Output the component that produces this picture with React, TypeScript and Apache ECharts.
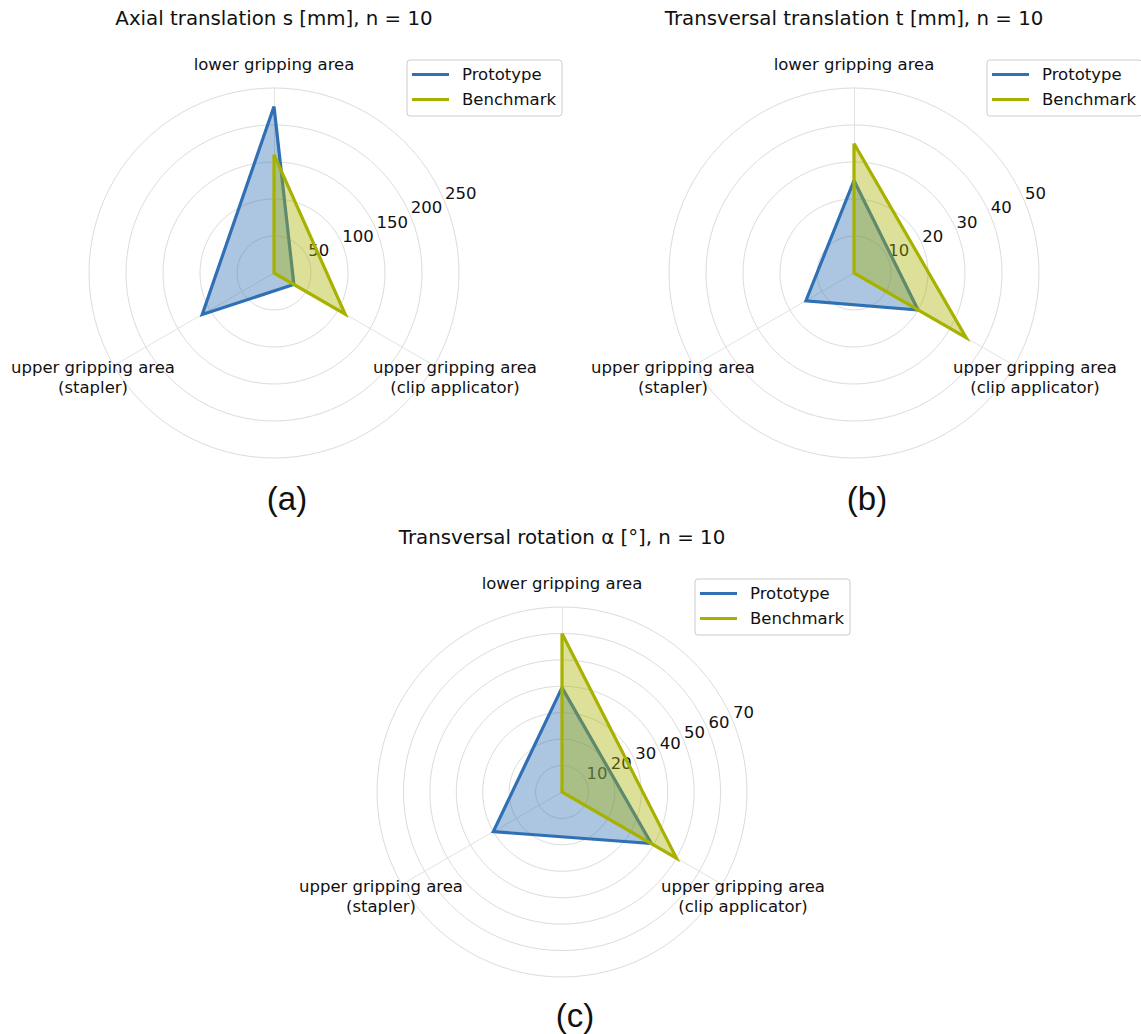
import React, { useEffect, useRef } from "react";
import * as echarts from "echarts";

// ---------- data ----------
// radar indicator order (counter-clockwise from top): lower, stapler, clip applicator
const CATEGORIES = [
  "lower gripping area",
  "upper gripping area\n(stapler)",
  "upper gripping area\n(clip applicator)",
];
const SERIES_NAMES = ["Prototype", "Benchmark"];

const AXIAL_TITLE = "Axial translation s [mm], n = 10";
const AXIAL_PROTOTYPE = [225, 112, 31];
const AXIAL_BENCHMARK = [160, 0, 111];
const AXIAL_TICKS = [50, 100, 150, 200, 250];

const TRANS_TITLE = "Transversal translation t [mm], n = 10";
const TRANS_PROTOTYPE = [25, 15, 20];
const TRANS_BENCHMARK = [35, 0, 35];
const TRANS_TICKS = [10, 20, 30, 40, 50];

const ROT_TITLE = "Transversal rotation α [°], n = 10";
const ROT_PROTOTYPE = [39.5, 30, 39];
const ROT_BENCHMARK = [60, 0, 50];
const ROT_TICKS = [10, 20, 30, 40, 50, 60, 70];

const PANEL_LETTERS = ["(a)", "(b)", "(c)"];

// ---------- layout / style ----------
const W = 1141;
const H = 1034;
const RADIUS = 185;
const CENTERS: [number, number][] = [
  [274, 273],
  [854, 273],
  [562, 792],
];
const BLUE = "#3070b5";
const GREEN = "#a7b200";
const TEXT = "#111111";
const FONT = "DejaVu Sans";
const FS = 16.5;
const TICK_ANGLE = 67.5; // clockwise from top  (= 22.5° above east)
const CATEGORY_ANGLES = [0, 240, 120]; // clockwise from top, matching radar order
const LABEL_GAP = 24; // px beyond outer ring to label centre

const PANELS = [
  { title: AXIAL_TITLE, proto: AXIAL_PROTOTYPE, bench: AXIAL_BENCHMARK, ticks: AXIAL_TICKS },
  { title: TRANS_TITLE, proto: TRANS_PROTOTYPE, bench: TRANS_BENCHMARK, ticks: TRANS_TICKS },
  { title: ROT_TITLE, proto: ROT_PROTOTYPE, bench: ROT_BENCHMARK, ticks: ROT_TICKS },
];

function buildOption() {
  const radar: any[] = [];
  const polar: any[] = [];
  const angleAxis: any[] = [];
  const radiusAxis: any[] = [];
  const legend: any[] = [];
  const series: any[] = [];
  const graphic: any[] = [];

  const labelBase = {
    show: true,
    position: "inside",
    fontSize: FS,
    fontFamily: FONT,
    color: TEXT,
    opacity: 1,
    textBorderWidth: 0,
  };

  PANELS.forEach((p, i) => {
    const max = p.ticks[p.ticks.length - 1];
    const [cx, cy] = CENTERS[i];
    radar.push({
      center: [cx, cy],
      radius: RADIUS,
      startAngle: 90,
      shape: "circle",
      splitNumber: p.ticks.length,
      indicator: CATEGORIES.map((c) => ({ name: c, min: 0, max })),
      axisName: { show: false },
      axisLabel: { show: false },
      axisTick: { show: false },
      splitArea: { show: false },
      splitLine: { lineStyle: { color: "#dcdcdc", width: 1 } },
      axisLine: { lineStyle: { color: "#e2e2e2", width: 1 } },
    });
    polar.push({ center: [cx, cy], radius: RADIUS });
    angleAxis.push({
      polarIndex: i,
      type: "value",
      min: 0,
      max: 360,
      startAngle: 90,
      clockwise: true,
      show: false,
    });
    radiusAxis.push({ polarIndex: i, type: "value", min: 0, max, show: false });

    legend.push({
      left: cx + 133,
      top: cy - 213,
      orient: "vertical",
      data: SERIES_NAMES,
      icon: "rect",
      itemWidth: 37,
      itemHeight: 3,
      itemGap: 8,
      padding: [6, 6, 8, 5],
      backgroundColor: "rgba(255,255,255,0.8)",
      borderColor: "#cccccc",
      borderWidth: 1,
      borderRadius: 3,
      selectedMode: false,
      textStyle: {
        fontSize: FS,
        fontFamily: FONT,
        color: TEXT,
        lineHeight: 16,
        padding: [0, 0, 0, 8],
      },
    });

    // tick labels
    series.push({
      type: "scatter",
      coordinateSystem: "polar",
      polarIndex: i,
      silent: true,
      z: 1,
      symbolSize: 1,
      itemStyle: { color: "transparent", opacity: 1 },
      data: p.ticks.map((t) => [t, TICK_ANGLE]),
      label: {
        ...labelBase,
        align: "left",
        verticalAlign: "bottom",
        formatter: (q: any) => String(q.value[0]),
      },
    });
    // category labels
    series.push({
      type: "scatter",
      coordinateSystem: "polar",
      polarIndex: i,
      silent: true,
      z: 1,
      symbolSize: 1,
      itemStyle: { color: "transparent", opacity: 1 },
      data: CATEGORIES.map((c, k) => {
        const a = (CATEGORY_ANGLES[k] * Math.PI) / 180;
        return {
          name: c,
          value: [max, CATEGORY_ANGLES[k]],
          label: { offset: [LABEL_GAP * Math.sin(a), -LABEL_GAP * Math.cos(a)] },
        };
      }),
      label: {
        ...labelBase,
        align: "center",
        verticalAlign: "middle",
        lineHeight: 20,
        formatter: (q: any) => q.name,
      },
    });

    const mk = (name: string, values: number[], color: string) => ({
      type: "radar",
      radarIndex: i,
      symbol: "none",
      z: 2,
      data: [
        {
          name,
          value: values,
          itemStyle: { color },
          lineStyle: { color, width: 3.2, join: "miter", miterLimit: 20 },
          areaStyle: { color, opacity: 0.4 },
        },
      ],
    });
    series.push(mk(SERIES_NAMES[0], p.proto, BLUE));
    series.push(mk(SERIES_NAMES[1], p.bench, GREEN));

    graphic.push({
      type: "text",
      x: cx,
      y: i < 2 ? 18 : 537,
      style: {
        text: p.title,
        fontSize: 19.8,
        fontFamily: FONT,
        fill: TEXT,
        align: "center",
        verticalAlign: "middle",
        textAlign: "center",
        textVerticalAlign: "middle",
      },
    });
    graphic.push({
      type: "text",
      x: cx + 13,
      y: i < 2 ? 498 : 1015,
      style: {
        text: PANEL_LETTERS[i],
        fontSize: 33,
        fontFamily: "Liberation Sans",
        fill: TEXT,
        align: "center",
        verticalAlign: "middle",
        textAlign: "center",
        textVerticalAlign: "middle",
      },
    });
  });

  return {
    animation: false,
    backgroundColor: "#ffffff",
    radar,
    polar,
    angleAxis,
    radiusAxis,
    legend,
    series,
    graphic,
  };
}

export default function App() {
  const ref = useRef<HTMLDivElement>(null);
  useEffect(() => {
    document.body.style.margin = "0";
    document.body.style.overflow = "hidden";
    if (!ref.current) return;
    const chart = echarts.init(ref.current, undefined, { renderer: "svg" });
    chart.setOption(buildOption() as any);
    return () => chart.dispose();
  }, []);
  return <div ref={ref} style={{ width: W, height: H }} />;
}
